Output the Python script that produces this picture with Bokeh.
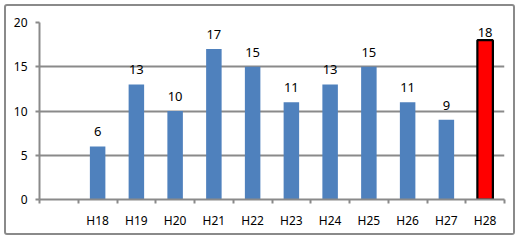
from bokeh.plotting import figure
from bokeh.models import ColumnDataSource, Range1d, FixedTicker, LabelSet
from bokeh.core.properties import value
from bokeh.embed import file_html
from bokeh.resources import INLINE

categories = ["", "H18", "H19", "H20", "H21", "H22", "H23", "H24", "H25", "H26", "H27", "H28"]
values = [None, 6, 13, 10, 17, 15, 11, 13, 15, 11, 9, 18]
y_ticks = [0, 5, 10, 15, 20]

n = len(categories)
y_max = y_ticks[-1]
frame_h = 231 - 16 - 38
px_per_unit = frame_h / y_max

xs, tops, labels, fills, lines, lws, offs = [], [], [], [], [], [], []
for i, (c, v) in enumerate(zip(categories, values)):
    if v is None:
        continue
    xs.append(i + 0.5)
    tops.append(v)
    labels.append(str(v))
    last = (c == categories[-1])
    fills.append("#ff0000" if last else "#4f81bd")
    lines.append("#000000" if last else "#4f81bd")
    lws.append(2.2 if last else 0.01)
    # label sits ~10px above bar, but is kept inside the plot area
    room = (y_max - v) * px_per_unit
    offs.append(min(10, room - 14))

src = ColumnDataSource(dict(x=xs, top=tops, label=labels, fill=fills, line=lines,
                            lw=lws, off=offs))

p = figure(width=511, height=231, output_backend="svg", toolbar_location=None,
           x_range=Range1d(0, n), y_range=Range1d(0, y_max),
           min_border_left=33, min_border_right=13, min_border_top=16, min_border_bottom=38)
p.margin = (4, 0, 0, 4)
p.styles = {"border": "2px solid #8a8a8a", "border-radius": "3px"}
p.outline_line_color = None
p.background_fill_color = "white"
p.border_fill_color = "white"

p.vbar(x="x", top="top", width=0.4, bottom=0, source=src, fill_color="fill",
       line_color="line", line_width="lw")

p.add_layout(LabelSet(x="x", y="top", text="label", source=src, text_align="center",
                      text_baseline="alphabetic", y_offset="off", text_font_size=value("13px"),
                      text_font=value("Noto Sans"), text_color="#000000"))

# x axis
p.xaxis.ticker = FixedTicker(ticks=[i + 0.5 for i in range(n)], minor_ticks=list(range(n + 1)))
p.xaxis.major_label_overrides = {i + 0.5: c for i, c in enumerate(categories)}
p.xaxis.major_tick_out = 0
p.xaxis.major_tick_in = 0
p.xaxis.minor_tick_out = 4
p.xaxis.minor_tick_in = 0
p.xaxis.minor_tick_line_color = "#8a8a8a"
p.xaxis.minor_tick_line_width = 2
p.xaxis.axis_line_color = "#8a8a8a"
p.xaxis.axis_line_width = 2
p.xaxis.major_label_text_font = "Noto Sans"
p.xaxis.major_label_text_font_size = "12px"
p.xaxis.major_label_standoff = 8
p.xaxis.major_label_text_color = "#000000"

# y axis
p.yaxis.ticker = FixedTicker(ticks=y_ticks)
p.yaxis.major_tick_out = 4
p.yaxis.major_tick_in = 0
p.yaxis.minor_tick_line_color = None
p.yaxis.major_tick_line_color = "#8a8a8a"
p.yaxis.major_tick_line_width = 2
p.yaxis.axis_line_color = "#8a8a8a"
p.yaxis.axis_line_width = 2
p.yaxis.major_label_text_font = "Noto Sans"
p.yaxis.major_label_text_font_size = "12px"
p.yaxis.major_label_standoff = 8
p.yaxis.major_label_text_color = "#000000"

p.xgrid.grid_line_color = None
p.ygrid.ticker = FixedTicker(ticks=y_ticks)
p.ygrid.grid_line_color = "#8a8a8a"
p.ygrid.grid_line_width = 2

open("out.html", "w").write(file_html(p, INLINE))
